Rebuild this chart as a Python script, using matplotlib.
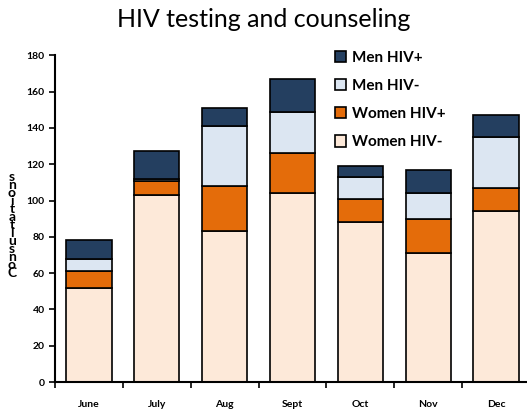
import numpy as np
import matplotlib
matplotlib.use("Agg")
import matplotlib.pyplot as plt

plt.rcParams['font.family'] = ['Lato', 'DejaVu Sans']

months = ["June", "July", "Aug", "Sept", "Oct", "Nov", "Dec"]
women_neg = [52, 103, 83, 104, 88, 71, 94]
women_pos = [9, 8, 25, 22, 13, 19, 13]
men_neg = [7, 1, 33, 23, 12, 14, 28]
men_pos = [10, 15, 10, 18, 6, 13, 12]

series = [
    ("Women HIV-", women_neg, "#FDE9D9"),
    ("Women HIV+", women_pos, "#E46C0A"),
    ("Men HIV-", men_neg, "#DCE6F2"),
    ("Men HIV+", men_pos, "#243F60"),
]

fig = plt.figure(figsize=(5.27, 4.12), dpi=100)
ax = fig.add_axes([55 / 527, 30 / 412, 475 / 527, (382 - 55.3) / 412])

x = np.arange(len(months))
bottom = np.zeros(len(months))
handles = []
for name, vals, col in series:
    b = ax.bar(x, vals, 0.667, bottom=bottom, color=col, edgecolor="black",
               linewidth=1.2, label=name)
    handles.append(b)
    bottom += np.array(vals)

ax.set_xlim(-0.5, len(months) - 0.5)
ax.set_ylim(0, 180)
ax.set_yticks(range(0, 181, 20))
ax.set_xticks(x)
ax.set_xticklabels(months, fontsize=7.5, fontweight="bold")
ax.set_xticks(np.arange(-0.5, len(months), 1), minor=True)
ax.tick_params(axis="x", which="major", length=0, pad=13)
ax.tick_params(axis="x", which="minor", length=4, width=1.2, direction="out")
ax.tick_params(axis="y", length=4, width=1.2, labelsize=7.5)
for lab in ax.get_yticklabels():
    lab.set_fontweight("bold")

for s in ["top", "right"]:
    ax.spines[s].set_visible(False)
for s in ["left", "bottom"]:
    ax.spines[s].set_linewidth(1.5)

leg = ax.legend(handles[::-1], [h.get_label() for h in handles[::-1]],
                loc="upper left", bbox_to_anchor=(0.56, 1.055), frameon=False,
                prop={"size": 11, "weight": "bold"}, handlelength=0.75,
                handleheight=0.75, labelspacing=0.92, handletextpad=0.4)

fig.text(0.5, 0.953, "HIV testing and counseling", ha="center", va="center",
         fontsize=18)

ylab = "Consultations"[::-1]
fig.text(12 / 527, 1 - 225 / 412, "\n".join(ylab), ha="center", va="center",
         fontsize=10, fontweight="bold", linespacing=0.6)

fig.savefig("out.png", dpi=100)
